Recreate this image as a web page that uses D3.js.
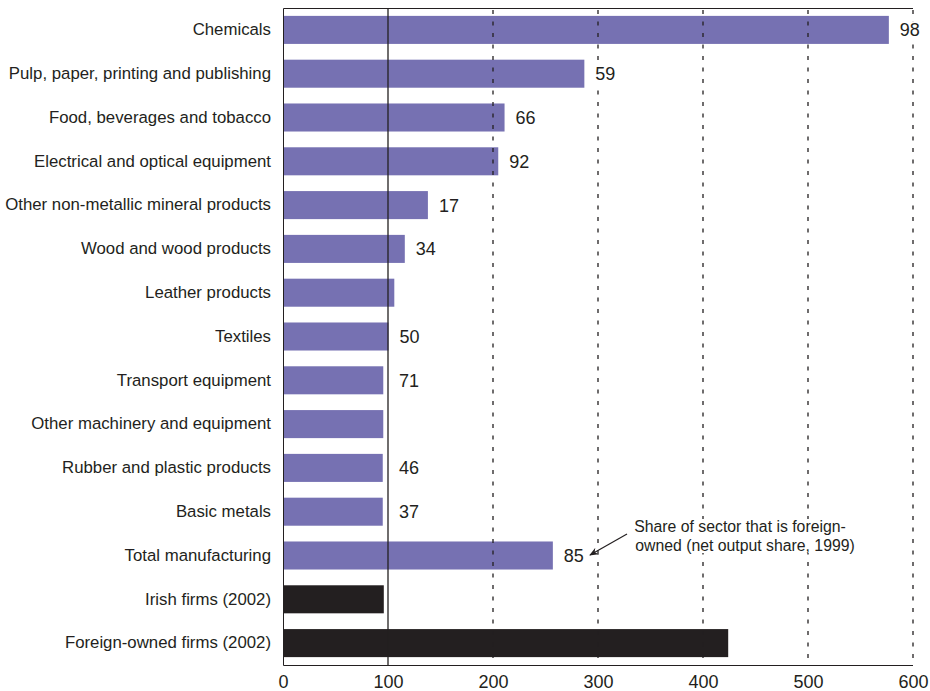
<!DOCTYPE html>
<html>
<head>
<meta charset="utf-8">
<script src="https://cdn.jsdelivr.net/npm/d3@7"></script>
<style>
  body { margin: 0; background: #fff; }
  text { font-family: "Liberation Sans", Arial, Helvetica, sans-serif; fill: #231f20; }
</style>
</head>
<body>
<div id="chart"></div>
<script>
// sectors, top to bottom
let sectors = [
    "Chemicals",
    "Pulp, paper, printing and publishing",
    "Food, beverages and tobacco",
    "Electrical and optical equipment",
    "Other non-metallic mineral products",
    "Wood and wood products",
    "Leather products",
    "Textiles",
    "Transport equipment",
    "Other machinery and equipment",
    "Rubber and plastic products",
    "Basic metals",
    "Total manufacturing",
    "Irish firms (2002)",
    "Foreign-owned firms (2002)"
];
let barValues = [577, 287, 211, 205, 138, 116, 106, 100.5, 95.5, 95.5, 95, 95, 257, 96, 424];
// foreign-owned share labels (null = no label)
let shareLabels = [98, 59, 66, 92, 17, 34, null, 50, 71, null, 46, 37, 85, null, null];
let darkBars = ["Irish firms (2002)", "Foreign-owned firms (2002)"];
let xTicks = [0, 100, 200, 300, 400, 500, 600];
let gridTicks = [200, 300, 400, 500, 600];

let width = 930, height = 691;
let svg = d3.select("#chart").append("svg")
    .attr("width", width)
    .attr("height", height);

let x = d3.scaleLinear().domain([0, 600]).range([283, 913]);
let y = d3.scaleBand().domain(sectors).range([8, 665])
    .paddingInner(0.36).paddingOuter(0.18);

let data = sectors.map((s, i) => ({name: s, value: barValues[i], label: shareLabels[i]}));

// bars
svg.append("g")
    .selectAll("rect")
    .data(data)
    .join("rect")
    .attr("x", x(0))
    .attr("y", d => y(d.name))
    .attr("width", d => x(d.value) - x(0))
    .attr("height", y.bandwidth())
    .attr("fill", d => darkBars.includes(d.name) ? "#231f20" : "#7671b2");

// dashed gridlines (on top of bars)
svg.append("g")
    .selectAll("line")
    .data(gridTicks)
    .join("line")
    .attr("x1", d => x(d)).attr("x2", d => x(d))
    .attr("y1", 8).attr("y2", 665)
    .attr("stroke", "#231f20")
    .attr("stroke-width", 1.3)
    .attr("stroke-dasharray", "4,7.5")
    .attr("stroke-dashoffset", -2);

// solid line at 100
svg.append("line")
    .attr("x1", x(100)).attr("x2", x(100))
    .attr("y1", 8).attr("y2", 665)
    .attr("stroke", "#231f20")
    .attr("stroke-width", 1.3);

// frame: left, top, bottom
svg.append("path")
    .attr("d", "M" + x(600) + ",8.5H" + (x(0) + 0.5) + "V665.5H" + x(600))
    .attr("fill", "none")
    .attr("stroke", "#231f20")
    .attr("stroke-width", 1);

// x axis labels
let xAxis = d3.axisBottom(x).tickValues(xTicks).tickSize(0).tickPadding(10);
let gx = svg.append("g")
    .attr("transform", "translate(0,665)")
    .call(xAxis);
gx.select(".domain").remove();
gx.selectAll("text")
    .style("font-size", "18px")
    .style("font-family", "'Liberation Sans', Arial, sans-serif")
    .attr("fill", "#231f20");

// y axis labels
let yAxis = d3.axisLeft(y).tickSize(0).tickPadding(12);
let gy = svg.append("g")
    .attr("transform", "translate(" + x(0) + ",0)")
    .call(yAxis);
gy.select(".domain").remove();
gy.selectAll("text")
    .style("font-size", "16.8px")
    .style("font-family", "'Liberation Sans', Arial, sans-serif")
    .attr("fill", "#231f20");

// white box behind a text so the gridlines break around it
function knockout(sel, pad) {
    sel.each(function() {
        let b = this.getBBox();
        d3.select(this.parentNode).insert("rect", () => this)
            .attr("x", b.x - pad).attr("y", b.y + 1)
            .attr("width", b.width + 2 * pad).attr("height", b.height - 2)
            .attr("fill", "#fff");
    });
}

// share labels
let labelG = svg.append("g");
let labels = labelG.selectAll("text")
    .data(data.filter(d => d.label !== null))
    .join("text")
    .attr("x", d => Math.max(x(d.value), x(100)) + 11)
    .attr("y", d => y(d.name) + y.bandwidth() / 2)
    .attr("dy", "0.36em")
    .style("font-size", "18px")
    .text(d => d.label);
knockout(labels, 2);

// annotation
let noteG = svg.append("g");
let note = noteG.append("text")
    .attr("text-anchor", "middle")
    .style("font-size", "15.8px");
note.append("tspan").attr("x", 740).attr("y", 532).text("Share of sector that is foreign-");
note.append("tspan").attr("x", 745).attr("y", 551).text("owned (net output share, 1999)");
knockout(note, 3);

svg.append("defs").append("marker")
    .attr("id", "arrow")
    .attr("viewBox", "0 0 10 10")
    .attr("refX", 9).attr("refY", 5)
    .attr("markerWidth", 9).attr("markerHeight", 9)
    .attr("markerUnits", "userSpaceOnUse")
    .attr("orient", "auto")
    .append("path")
    .attr("d", "M0,1L10,5L0,9L3,5Z")
    .attr("fill", "#231f20");

svg.append("line")
    .attr("x1", 627).attr("y1", 534)
    .attr("x2", 590).attr("y2", 555)
    .attr("stroke", "#231f20")
    .attr("stroke-width", 1.2)
    .attr("marker-end", "url(#arrow)");
</script>
</body>
</html>
